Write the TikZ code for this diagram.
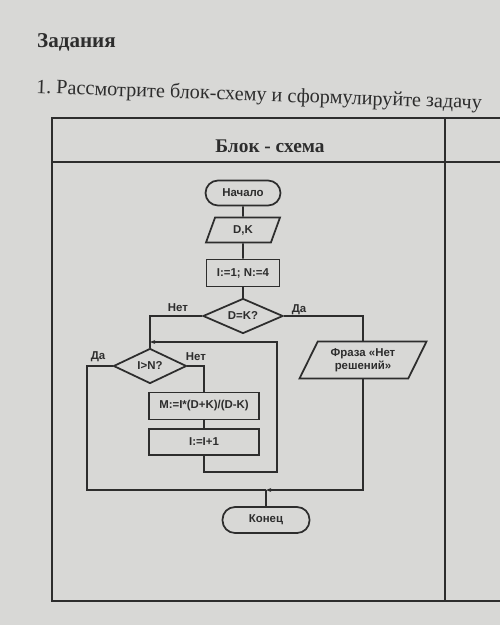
\documentclass[tikz,border=0pt]{standalone}
\usepackage{fontspec}
\setmainfont{Liberation Serif}
\setsansfont{Liberation Sans}
\usetikzlibrary{shapes.geometric,arrows.meta}
\definecolor{paper}{RGB}{216,216,214}
\definecolor{ink}{RGB}{45,45,45}
\tikzset{
  blk/.style={draw=ink,line width=1pt,fill=paper,text=ink,align=center,inner sep=1pt,
    font=\sffamily\bfseries\fontsize{6.5}{7.5}\selectfont},
  term/.style={blk,rectangle,rounded corners=0.25cm},
  proc/.style={blk,rectangle},
  io/.style={blk,trapezium,trapezium stretches=true},
  cond/.style={blk,diamond,aspect=2.3,inner sep=0pt},
  wire/.style={draw=ink,line width=1pt},
  lbl/.style={text=ink,font=\sffamily\bfseries\fontsize{6.5}{7.5}\selectfont,inner sep=0pt}
}

\begin{document}
\begin{tikzpicture}
        \fill[paper] (0,0) rectangle (10,-12.5);
        \useasboundingbox (0,0) rectangle (10,-12.5);

        \node[anchor=west,text=ink,font=\bfseries\fontsize{12}{14}\selectfont] (task) at (0.62,-0.84) {Задания};
        \node[anchor=west,text=ink,rotate=-2,font=\fontsize{11.5}{13}\selectfont] (quest) at (0.6,-1.76) {1.~Рассмотрите блок-схему и сформулируйте задачу};

        \draw[ink,line width=0.7pt] (10,-2.36) -- (1.04,-2.36) -- (1.04,-12.02) -- (10,-12.02);
        \draw[ink,line width=0.7pt] (1.04,-3.24) -- (10,-3.24);
        \draw[ink,line width=0.7pt] (8.9,-2.36) -- (8.9,-12.02);
        \node[text=ink,font=\bfseries\fontsize{11}{13}\selectfont] (head) at (5.4,-2.92) {Блок - схема};

        \node[term,minimum width=1.5cm,minimum height=0.5cm] (start) at (4.86,-3.86) {Начало};
        \node[io,trapezium left angle=74,trapezium right angle=106,minimum width=1.48cm,minimum height=0.5cm] (read) at (4.86,-4.6) {D,K};
        \node[proc,minimum width=1.46cm,minimum height=0.54cm] (init) at (4.86,-5.46) {I:=1; N:=4};
        \node[cond,minimum width=1.6cm,minimum height=0.7cm] (eq) at (4.86,-6.32) {D=K?};
        \node[cond,minimum width=1.46cm,minimum height=0.7cm] (cmp) at (3.0,-7.32) {I>N?};
        \node[proc,minimum width=2.2cm,minimum height=0.54cm] (calc) at (4.08,-8.12) {M:=I*(D+K)/(D-K)};
        \node[proc,minimum width=2.2cm,minimum height=0.52cm] (inc) at (4.08,-8.84) {I:=I+1};
        \node[io,trapezium left angle=63,trapezium right angle=117,minimum width=2.55cm,minimum height=0.74cm] (msg) at (7.26,-7.2) {Фраза «Нет\\решений»};
        \node[term,minimum width=1.74cm,minimum height=0.52cm] (stop) at (5.32,-10.4) {Конец};

        \coordinate (lp1) at (5.54,-9.44);
        \coordinate (lp2) at (5.54,-6.84);
        \coordinate (bl) at (1.74,-9.8);
        \coordinate (join) at (stop.north |- bl);

        \draw[wire] (start) -- (read);
        \draw[wire] (read) -- (init);
        \draw[wire] (init) -- (eq);
        \draw[wire] (eq.west) -| (cmp.north);
        \draw[wire] (eq.east) -| (msg.north);
        \draw[wire] (cmp.east) -| (calc.north);
        \draw[wire] (calc) -- (inc);
        \draw[wire,-{Stealth[length=3pt]}] (inc.south) |- (lp1) -- (lp2) -- (lp2 -| cmp.north);
        \draw[wire] (cmp.west) -| (bl) -- (join);
        \draw[wire,-{Stealth[length=3pt]}] (msg.south) |- (join);
        \draw[wire] (join) -- (stop);

        \node[lbl] (no1) at (3.56,-6.16) {Нет};
        \node[lbl] (yes1) at (5.98,-6.2) {Да};
        \node[lbl] (yes2) at (1.96,-7.14) {Да};
        \node[lbl] (no2) at (3.92,-7.14) {Нет};
    \end{tikzpicture}
\end{document}
